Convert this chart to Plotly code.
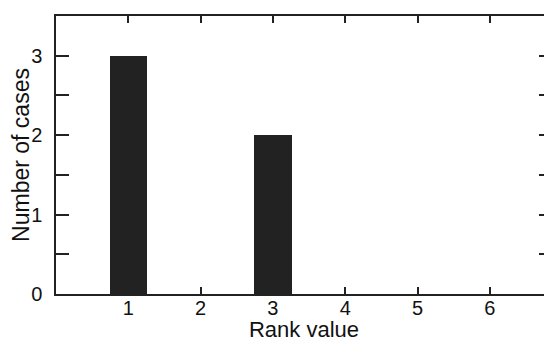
import plotly.graph_objects as go

rank_values = [1, 2, 3, 4, 5, 6]
num_cases = [3, 0, 2, 0, 0, 0]
x_tick_labels = ["1", "2", "3", "4", "5", "6"]
y_tick_vals = [0, 1, 2, 3]

FONT = "Liberation Sans, Arial, Helvetica, sans-serif"

fig = go.Figure()
fig.add_trace(go.Bar(
    x=rank_values, y=num_cases, width=0.52,
    marker=dict(color="#222222", line=dict(width=0)),
    showlegend=False,
))

# page body has an 8px margin, so the figure is 8px smaller and offset
fig.update_layout(
    width=544, height=334,
    margin=dict(l=48, r=0, t=8, b=48, autoexpand=False),
    paper_bgcolor="white", plot_bgcolor="white",
    font=dict(family=FONT, size=20, color="#111111"),
    bargap=0,
)
fig.update_xaxes(
    range=[0, 6.86], tickvals=rank_values, ticktext=x_tick_labels,
    ticks="inside", ticklen=7, tickwidth=1.5, tickcolor="#222",
    showline=True, linecolor="#222", linewidth=1.5, mirror="ticks",
    showgrid=False, zeroline=False, automargin=True,
    title=dict(text="Rank value", font=dict(size=22), standoff=7),
    ticklabelstandoff=-5,
)
fig.update_yaxes(
    range=[0, 3.5], tickvals=y_tick_vals,
    ticks="inside", ticklen=13, tickwidth=1.5, tickcolor="#222",
    minor=dict(dtick=0.5, tick0=0, ticks="inside", ticklen=13, tickwidth=1.5, tickcolor="#222", showgrid=False),
    showline=True, linecolor="#222", linewidth=1.5, mirror="ticks",
    showgrid=False, zeroline=False, automargin=True,
    title=dict(text="Number of cases", font=dict(size=23), standoff=0),
    ticklabelstandoff=8,
)

fig.write_html("out.html")
